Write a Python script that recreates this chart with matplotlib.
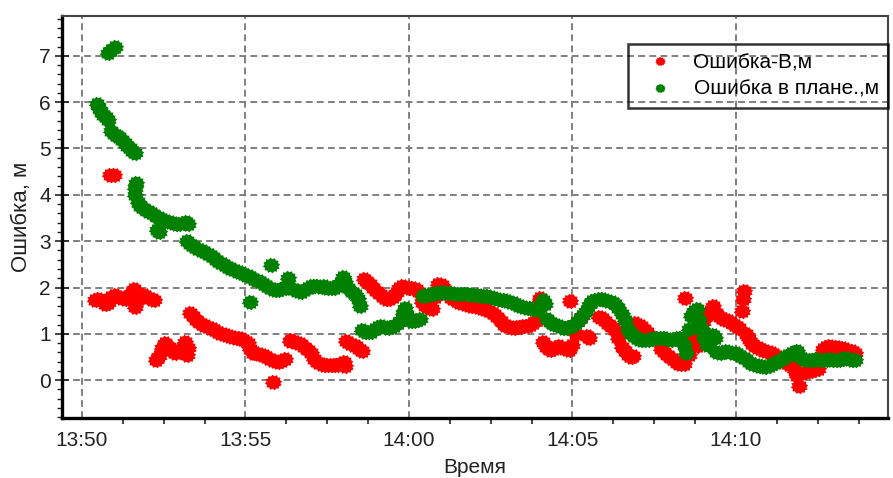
import matplotlib
matplotlib.use("Agg")
import numpy as np
import matplotlib.pyplot as plt
from matplotlib.ticker import MultipleLocator

plt.rcParams['font.family'] = ['Liberation Sans', 'DejaVu Sans']

# minutes after 13:50
red_t = [0.85, 0.97,
         0.4, 0.5, 0.6, 0.7, 0.8, 0.9, 1.0, 1.1, 1.2, 1.3, 1.4, 1.5, 1.6, 1.63, 1.7, 1.8, 1.9, 2.0, 2.1, 2.2,
         2.25, 2.35, 2.45, 2.55, 2.65, 2.75, 2.85, 2.95, 3.05, 3.15, 3.2, 3.25,
         3.3, 3.4, 3.5, 3.6, 3.7, 3.8, 3.9, 4.0, 4.1, 4.2, 4.3, 4.4, 4.5, 4.6, 4.7, 4.8, 4.9, 5.0, 5.08, 5.15,
         5.23, 5.3, 5.4, 5.5, 5.6, 5.7, 5.8, 5.9, 6.0, 6.1, 6.2, 6.35, 6.4, 6.5, 6.6, 6.7, 6.8, 6.9, 7.0, 7.1,
         7.2, 7.3, 7.4, 7.5, 7.6, 7.7, 7.8, 7.9, 8.0, 8.05, 8.08, 8.18, 8.28, 8.38, 8.48, 8.55,
         5.84,
         8.63, 8.7, 8.8, 8.9, 9.0, 9.1, 9.2, 9.3, 9.4, 9.5, 9.6, 9.7, 9.8, 9.9, 10.0, 10.1, 10.2, 10.3, 10.4,
         10.5, 10.6, 10.7, 10.8, 10.9, 11.0, 11.1, 11.2, 11.3, 11.4, 11.5, 11.6, 11.7, 11.8, 11.9, 12.0, 12.1,
         12.2, 12.3, 12.4, 12.5, 12.6, 12.7, 12.8, 12.9, 13.0, 13.1, 13.2, 13.3, 13.4, 13.5, 13.6, 13.7, 13.8,
         13.9, 14.0, 14.02, 14.1, 14.2, 14.3, 14.4, 14.5, 14.6, 14.7, 14.8, 14.9, 14.93, 15.0, 15.1, 15.2, 15.3,
         15.45, 15.5, 15.8, 15.9, 16.0, 16.1, 16.2, 16.3, 16.4, 16.5, 16.6, 16.7, 16.8, 16.86, 16.92, 17.0,
         17.1, 17.2, 17.27, 17.7, 17.8, 17.9, 18.0, 18.1, 18.2, 18.3, 18.4, 18.44, 18.55, 18.62, 18.7, 18.8,
         18.9, 19.0, 19.1, 19.2, 19.3, 19.4, 19.5, 19.6, 19.7, 19.8, 19.9, 20.0, 20.1, 20.18, 20.22, 20.26,
         20.3, 20.4, 20.5, 20.6, 20.7, 20.8, 20.9, 21.0, 21.1, 21.2, 21.3, 21.4, 21.5, 21.6, 21.7, 21.8, 21.88,
         21.92, 22.0, 22.1, 22.2, 22.3, 22.4, 22.5, 22.6, 22.67, 22.75, 22.85, 22.95, 23.05, 23.15, 23.25,
         23.35, 23.45, 23.55, 23.65]
red_v = [4.42, 4.42,
         1.72, 1.76, 1.72, 1.64, 1.66, 1.80, 1.84, 1.80, 1.78, 1.76, 1.80, 1.88, 1.96, 1.58, 1.75, 1.80, 1.84, 1.80, 1.76, 1.72,
         0.44, 0.52, 0.70, 0.80, 0.72, 0.62, 0.58, 0.62, 0.70, 0.82, 0.55, 0.70,
         1.45, 1.38, 1.30, 1.24, 1.20, 1.16, 1.13, 1.10, 1.06, 1.02, 1.00, 0.98, 0.95, 0.93, 0.92, 0.91, 0.88, 0.85, 0.80, 0.68,
         0.59, 0.58, 0.56, 0.55, 0.52, 0.48, 0.44, 0.42, 0.40, 0.42, 0.45, 0.84, 0.86, 0.83, 0.80, 0.78, 0.72, 0.65, 0.58, 0.45,
         0.40, 0.36, 0.33, 0.32, 0.32, 0.33, 0.33, 0.36, 0.40, 0.30, 0.84, 0.80, 0.76, 0.73, 0.68, 0.62,
         -0.03,
         2.18, 2.14, 2.08, 2.00, 1.92, 1.86, 1.80, 1.76, 1.75, 1.80, 1.88, 1.98, 2.03, 2.02, 2.00, 1.98, 1.96, 1.90, 1.68,
         1.60, 1.55, 1.53, 1.80, 2.08, 2.05, 1.95, 1.85, 1.78, 1.72, 1.68, 1.66, 1.64, 1.62, 1.61, 1.60, 1.58,
         1.56, 1.54, 1.52, 1.48, 1.42, 1.36, 1.28, 1.20, 1.16, 1.14, 1.13, 1.14, 1.15, 1.16, 1.18, 1.20, 1.24,
         1.30, 1.78, 1.72, 0.82, 0.72, 0.66, 0.68, 0.72, 0.73, 0.70, 0.67, 0.66, 1.71, 0.75, 1.00, 1.30, 1.38,
         0.95, 0.92, 1.36, 1.35, 1.28, 1.22, 1.14, 1.08, 0.90, 0.72, 0.62, 0.55, 0.50, 0.52, 1.24, 1.20,
         1.16, 1.10, 1.05, 0.68, 0.60, 0.54, 0.48, 0.44, 0.38, 0.36, 0.34, 1.78, 0.55, 0.87, 0.84, 0.73,
         0.90, 1.25, 1.40, 1.50, 1.60, 1.45, 1.36, 1.33, 1.30, 1.27, 1.22, 1.18, 1.12, 1.50, 1.75, 1.92,
         1.00, 0.88, 0.78, 0.72, 0.69, 0.66, 0.63, 0.60, 0.58, 0.55, 0.50, 0.45, 0.40, 0.36, 0.30, 0.20, 0.10,
         -0.12, 0.15, 0.18, 0.20, 0.20, 0.22, 0.25, 0.50, 0.68, 0.72, 0.73, 0.72, 0.71, 0.70, 0.69,
         0.67, 0.64, 0.62, 0.58]

green_t = [0.8, 0.9, 1.0,
           0.45, 0.52, 0.58, 0.65, 0.72, 0.8,
           0.9, 0.98, 1.06, 1.14, 1.22, 1.3, 1.38, 1.46, 1.54, 1.62,
           1.62, 1.66, 1.62, 1.7, 1.78, 1.88, 1.98, 2.08, 2.18, 2.28, 2.38, 2.48, 2.58, 2.68, 2.78, 2.88, 2.98,
           3.08, 3.18, 3.24, 2.34, 2.28,
           3.2, 3.3, 3.4, 3.5, 3.6, 3.7, 3.8, 3.9, 4.0, 4.1, 4.2, 4.3, 4.4, 4.5, 4.6, 4.7, 4.8, 4.9, 5.0, 5.1,
           5.2, 5.3, 5.4, 5.5, 5.6, 5.7, 5.8, 5.9, 6.0, 6.1, 6.2, 6.3, 6.28, 6.4, 6.5, 6.6, 6.7, 6.8, 6.9, 7.0,
           7.1, 7.2, 7.3, 7.4, 7.5, 7.6, 7.7, 7.8, 7.9, 7.98, 8.05, 8.15, 8.25, 8.35, 8.45, 8.5,
           5.13, 5.79,
           8.55, 8.65, 8.75, 8.85, 8.95, 9.05, 9.15, 9.25, 9.35, 9.45, 9.55, 9.65, 9.75, 9.82, 9.88, 9.95,
           10.05, 10.15, 10.25, 10.35,
           10.42, 10.5, 10.6, 10.7, 10.8, 10.9, 11.0, 11.1, 11.2, 11.3, 11.4, 11.5, 11.6, 11.7, 11.8, 11.9,
           12.0, 12.1, 12.2, 12.3, 12.4, 12.5, 12.6, 12.7, 12.8, 12.9, 13.0, 13.1, 13.2, 13.3, 13.4, 13.5,
           13.6, 13.7, 13.8, 13.9, 14.0, 14.1, 14.17, 14.22, 14.3, 14.4, 14.5, 14.6, 14.7, 14.8, 14.9, 15.0,
           15.1, 15.2, 15.3, 15.4, 15.5, 15.6, 15.7, 15.8, 15.9, 16.0, 16.1, 16.2, 16.3, 16.4, 16.5, 16.6,
           16.7, 16.8, 16.9, 17.0, 17.1, 17.2, 17.3, 17.4, 17.5, 17.6, 17.7, 17.8, 17.9, 18.0, 18.1, 18.2,
           18.3, 18.4, 18.48, 18.55, 18.64, 18.72, 18.8, 18.88, 18.95, 19.02, 19.1, 19.2, 19.3, 19.36, 19.4,
           19.5, 19.6, 19.7, 19.8, 19.9, 20.0, 20.1, 20.2, 20.3, 20.4, 20.5, 20.6, 20.7, 20.8, 20.9, 21.0,
           21.1, 21.2, 21.3, 21.4, 21.5, 21.6, 21.7, 21.8, 21.86, 21.95, 22.05, 22.15, 22.25, 22.35, 22.45,
           22.55, 22.65, 22.75, 22.85, 22.95, 23.05, 23.15, 23.25, 23.35, 23.45, 23.55, 23.65]
green_v = [7.05, 7.12, 7.18,
           5.95, 5.88, 5.78, 5.72, 5.68, 5.62,
           5.38, 5.32, 5.28, 5.24, 5.18, 5.12, 5.06, 5.00, 4.95, 4.90,
           4.15, 4.25, 4.00, 3.85, 3.76, 3.72, 3.66, 3.62, 3.58, 3.52, 3.49, 3.46, 3.44, 3.42, 3.40, 3.38, 3.36,
           3.40, 3.42, 3.36, 3.19, 3.25,
           3.00, 2.94, 2.90, 2.86, 2.82, 2.78, 2.74, 2.70, 2.65, 2.60, 2.55, 2.50, 2.46, 2.42, 2.39, 2.36, 2.34, 2.31, 2.28, 2.24,
           2.20, 2.17, 2.13, 2.10, 2.06, 2.02, 1.97, 1.95, 1.94, 1.96, 1.98, 2.20, 2.05, 1.98, 1.94, 1.92, 1.90, 1.94, 2.00, 2.03,
           2.04, 2.03, 2.02, 2.03, 2.00, 1.98, 2.00, 2.04, 2.10, 2.22, 2.12, 2.00, 1.90, 1.85, 1.75, 1.60,
           1.69, 2.48,
           1.08, 1.05, 1.03, 1.05, 1.10, 1.14, 1.16, 1.14, 1.13, 1.14, 1.18, 1.24, 1.30, 1.45, 1.56, 1.40,
           1.28, 1.27, 1.30, 1.32,
           1.82, 1.84, 1.84, 1.86, 1.88, 1.89, 1.90, 1.89, 1.88, 1.88, 1.87, 1.86, 1.85, 1.85, 1.85, 1.84,
           1.84, 1.83, 1.82, 1.82, 1.81, 1.79, 1.78, 1.76, 1.74, 1.72, 1.70, 1.68, 1.66, 1.63, 1.60, 1.58,
           1.56, 1.55, 1.53, 1.52, 1.60, 1.72, 1.65, 1.32, 1.26, 1.22, 1.19, 1.16, 1.13, 1.12, 1.14, 1.18,
           1.24, 1.30, 1.38, 1.50, 1.62, 1.70, 1.74, 1.76, 1.75, 1.73, 1.71, 1.68, 1.64, 1.55, 1.42, 1.30,
           1.10, 1.00, 0.93, 0.89, 0.87, 0.86, 0.87, 0.88, 0.90, 0.90, 0.91, 0.90, 0.88, 0.87, 0.88, 0.90,
           0.90, 0.75, 0.58, 1.10, 1.38, 1.50, 1.53, 1.30, 1.10, 0.90, 0.75, 0.95, 0.98, 0.90, 0.60,
           0.58, 0.60, 0.62, 0.60, 0.58, 0.58, 0.55, 0.50, 0.45, 0.40, 0.36, 0.33, 0.31, 0.30, 0.29, 0.30,
           0.34, 0.38, 0.42, 0.46, 0.50, 0.54, 0.58, 0.60, 0.63, 0.50, 0.45, 0.44, 0.43, 0.44, 0.45,
           0.44, 0.43, 0.44, 0.45, 0.44, 0.43, 0.44, 0.46, 0.47, 0.45, 0.44, 0.44]

x_major = [0, 5, 10, 15, 20]
x_labels = ["13:50", "13:55", "14:00", "14:05", "14:10"]
y_major = [0, 1, 2, 3, 4, 5, 6, 7]

W, H = 893, 478
fig = plt.figure(figsize=(W / 100, H / 100), dpi=100)
ax = fig.add_axes([62 / W, (H - 418) / H, (888 - 62) / W, (418 - 15.5) / H])

# jagged round marker (like the blobby asterisks of the original)
ang = np.linspace(0, 2 * np.pi, 25)[:-1] + np.pi / 24
rad = np.where(np.arange(24) % 2 == 0, 1.0, 0.8)
blob = np.column_stack([rad * np.cos(ang), rad * np.sin(ang) * 0.9])
blob = np.vstack([blob, blob[:1]])

ax.plot(red_t, red_v, linestyle='none', marker=blob, markersize=12.5, color='#ff0000',
        markeredgewidth=0, label='Ошибка-В,м', zorder=3)
ax.plot(green_t, green_v, linestyle='none', marker=blob, markersize=12.5, color='#008000',
        markeredgewidth=0, label='Ошибка в плане.,м', zorder=4)

ax.set_xlim(-0.612, 24.65)
ax.set_ylim(-0.816, 7.87)

ax.set_xticks(x_major)
ax.set_xticklabels(x_labels)
ax.xaxis.set_minor_locator(MultipleLocator(1.25))
ax.set_yticks(y_major)
ax.yaxis.set_minor_locator(MultipleLocator(0.2))

ax.grid(True, which='major', color='#808080', linestyle=(0, (3.5, 2.2)), linewidth=1.4, zorder=1)
ax.set_axisbelow(True)

ax.tick_params(axis='x', which='major', length=0, pad=9, labelsize=15, colors='#222222')
ax.tick_params(axis='x', which='minor', length=4, width=1.2, direction='out', color='#222222')
ax.tick_params(axis='y', which='major', length=10, width=1.2, direction='inout', pad=3, labelsize=15,
               colors='#222222')
ax.tick_params(axis='y', which='minor', length=3.5, width=1.0, direction='out', color='#222222')

for s in ['left', 'bottom']:
    ax.spines[s].set_linewidth(2.4)
    ax.spines[s].set_color('black')
for s in ['top', 'right']:
    ax.spines[s].set_linewidth(1.5)
    ax.spines[s].set_color('#444444')

ax.set_xlabel('Время', fontsize=15, labelpad=6, color='#222222')
ax.set_ylabel('Ошибка, м', fontsize=16, labelpad=5, color='#222222')

leg = ax.legend(loc='upper right', bbox_to_anchor=(1.0, 0.929), borderaxespad=0,
                fancybox=False, frameon=True, fontsize=15, handletextpad=0.55, borderpad=0.45,
                labelspacing=0.36, handlelength=2.15, markerscale=0.6)
leg.get_frame().set_facecolor('none')
leg.get_frame().set_edgecolor('black')
leg.get_frame().set_linewidth(1.8)

fig.savefig('out.png', dpi=100)
